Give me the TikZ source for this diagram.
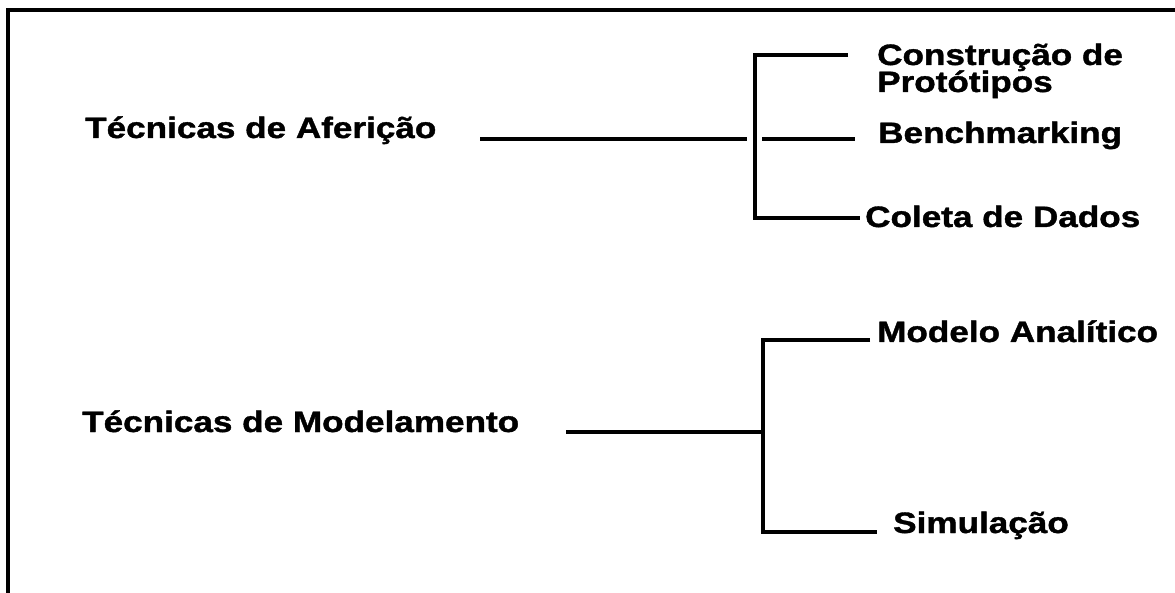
\documentclass[tikz,border=0pt]{standalone}
\usepackage{fontspec}
\setmainfont{Liberation Sans}[BoldFeatures={FakeBold=1.2}]
\newcommand{\wide}[1]{\scalebox{1.19}[1]{#1}}
\begin{document}
\begin{tikzpicture}[x=1pt,y=-1pt,
  lbl/.style={font=\fontsize{29.5}{32}\selectfont\bfseries, inner sep=0pt, anchor=base west},
  conn/.style={line width=3.6pt, line cap=butt},
  frame/.style={line width=3.6pt}]
\useasboundingbox (0,0) rectangle (1175,593);

% open frame: left and top edges
\coordinate (fb) at (8,600);
\coordinate (fc) at (8,10);
\coordinate (fr) at (1180,10);
\draw[frame] (fb) -- (fc) -- (fr);

% labels
\node[lbl] (afer) at (85,138) {\wide{Técnicas de Aferição}};
\node[lbl] (cons) at (877,65) {\wide{Construção de}};
\node[lbl] (prot) at (877,92) {\wide{Protótipos}};
\node[lbl] (bench) at (878,143) {\wide{Benchmarking}};
\node[lbl] (colet) at (865,227) {\wide{Coleta de Dados}};

\node[lbl] (model) at (82,432) {\wide{Técnicas de Modelamento}};
\node[lbl] (anal) at (877,342) {\wide{Modelo Analítico}};
\node[lbl] (simul) at (893,533) {\wide{Simulação}};

% first bracket
\coordinate (a0) at (480,139);
\coordinate (a1) at (747,139);
\coordinate (at) at (755,55);
\coordinate (ab) at (755,218);
\coordinate (ate) at (848,55);
\coordinate (am0) at (762,139);
\coordinate (am1) at (855,139);
\coordinate (abe) at (860,218);
\draw[conn] (a0) -- (a1);
\draw[conn] (ate) -- (at) -- (ab) -- (abe);
\draw[conn] (am0) -- (am1);

% second bracket
\coordinate (b0) at (566,432);
\coordinate (b1) at (763,432);
\coordinate (bt) at (763,340);
\coordinate (bb) at (763,532);
\coordinate (bte) at (870,340);
\coordinate (bbe) at (877,532);
\draw[conn] (b0) -- (b1);
\draw[conn] (bte) -- (bt) -- (bb) -- (bbe);
\end{tikzpicture}
\end{document}
